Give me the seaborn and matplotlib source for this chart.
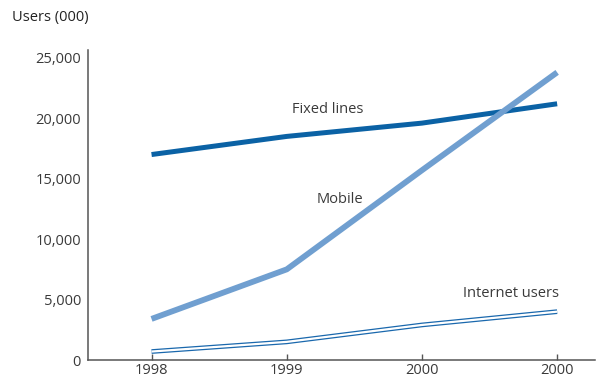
import numpy as np
import pandas as pd
import matplotlib
matplotlib.use("Agg")
import matplotlib.pyplot as plt
import seaborn as sns

# Tick labels along the x axis
years = ["1998", "1999", "2000", "2000"]

# Users (thousands)
fixed_lines = [17000, 18500, 19600, 21200]
mobile = [3400, 7500, 15700, 23800]
internet_users = [700, 1500, 2900, 4000]

y_ticks = [0, 5000, 10000, 15000, 20000, 25000]

pos = np.arange(len(years))
df = pd.DataFrame({
    "pos": np.tile(pos, 3),
    "users": fixed_lines + mobile + internet_users,
    "series": ["Fixed lines"] * 4 + ["Mobile"] * 4 + ["Internet users"] * 4,
})

sns.set_style("white")
plt.rcParams["font.family"] = ["Open Sans", "DejaVu Sans"]

fig = plt.figure(figsize=(5.97, 3.79), dpi=100)
ax = fig.add_axes([88 / 597, 1 - 360 / 379, (595 - 88) / 597, (360 - 50) / 379])

dark_blue = "#0b62a5"
light_blue = "#709fd0"
net_blue = "#1a68ad"

sns.lineplot(data=df[df.series == "Fixed lines"], x="pos", y="users", ax=ax,
             color=dark_blue, lw=3.6, solid_capstyle="butt", legend=False)
sns.lineplot(data=df[df.series == "Mobile"], x="pos", y="users", ax=ax,
             color=light_blue, lw=4.2, solid_capstyle="butt", legend=False)
# Internet users: outlined (hollow) line
sns.lineplot(data=df[df.series == "Internet users"], x="pos", y="users", ax=ax,
             color=net_blue, lw=3.4, solid_capstyle="butt", legend=False)
sns.lineplot(data=df[df.series == "Internet users"], x="pos", y="users", ax=ax,
             color="white", lw=1.6, solid_capstyle="butt", legend=False)

ax.set_xlim(-0.47, 3.28)
ax.set_ylim(0, 25650)
ax.set_xticks(pos)
ax.set_xticklabels(years)
ax.set_yticks(y_ticks)
ax.set_yticklabels([f"{v:,}" for v in y_ticks])
ax.set_xlabel("")
ax.set_ylabel("")

text_color = "#3a3a3a"
spine_color = "#555555"
for side in ["top", "right"]:
    ax.spines[side].set_visible(False)
for side in ["left", "bottom"]:
    ax.spines[side].set_color(spine_color)
    ax.spines[side].set_linewidth(1.1)

ax.tick_params(axis="x", bottom=True, direction="in", length=4, width=1.0,
               color=spine_color, labelsize=10.5, labelcolor=text_color, pad=2)
ax.tick_params(axis="y", left=False, length=0, labelsize=10.5,
               labelcolor=text_color, pad=5)

ax.text(1.3, 20700, "Fixed lines", ha="center", va="center", fontsize=10.5, color=text_color)
ax.text(1.39, 13300, "Mobile", ha="center", va="center", fontsize=10.5, color=text_color)
ax.text(2.66, 5500, "Internet users", ha="center", va="center", fontsize=10.5, color=text_color)

fig.text(12 / 597, 1 - 18 / 379, "Users (000)", ha="left", va="center",
         fontsize=10.5, color="#222222")

fig.savefig("out.png", dpi=100, facecolor="white")
